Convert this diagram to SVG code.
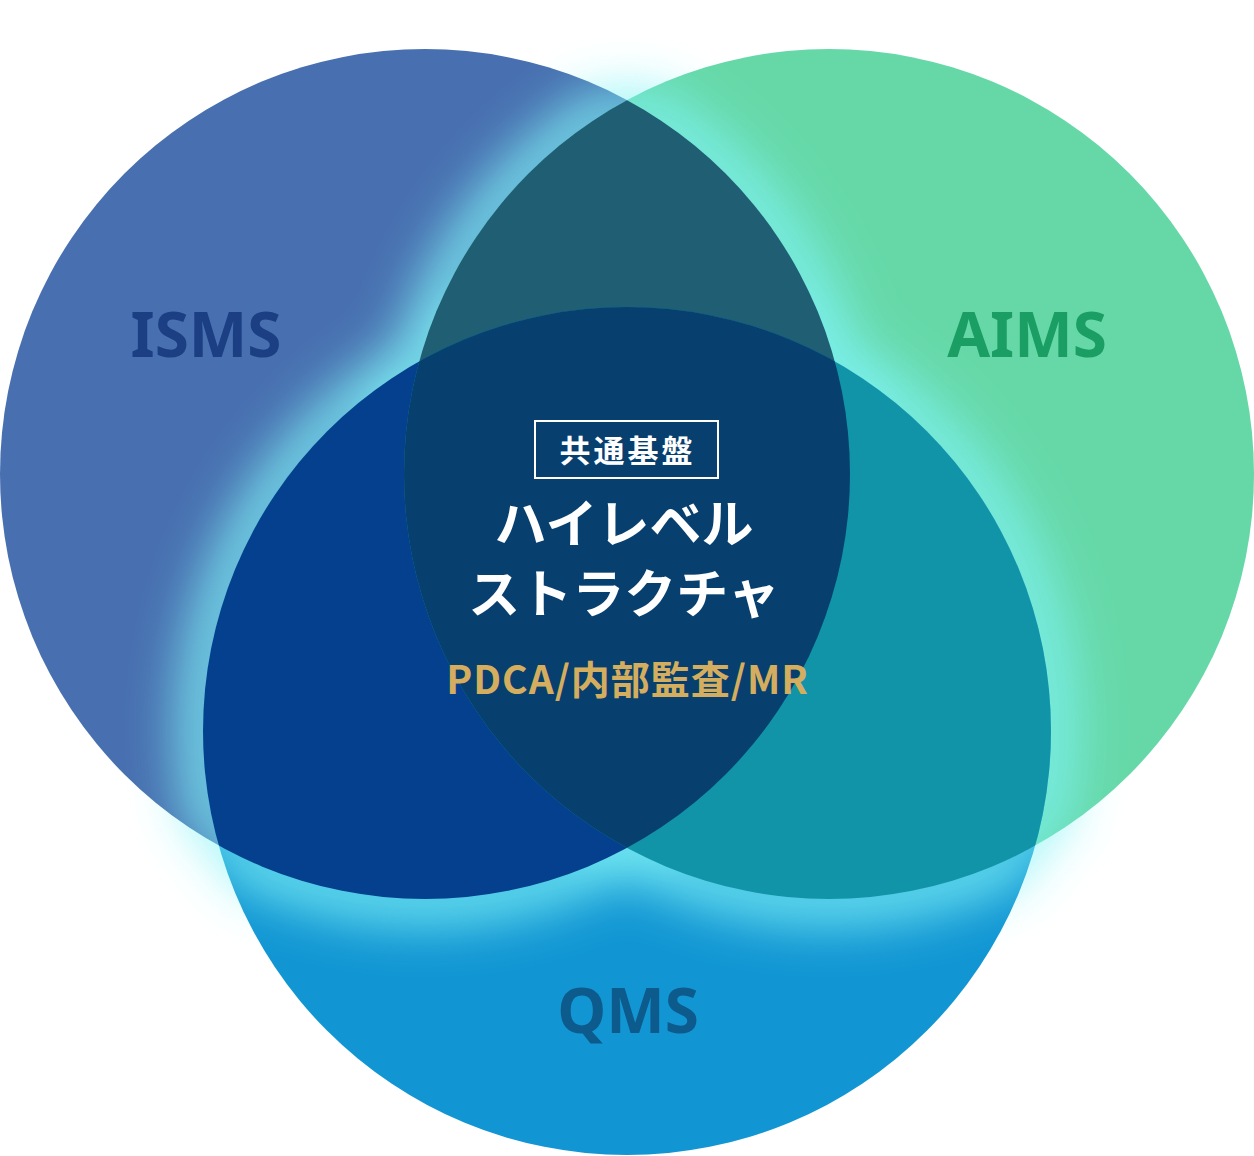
<svg xmlns="http://www.w3.org/2000/svg" width="1254" height="1156" viewBox="0 0 1254 1156">
<style>
.lbl{font-family:"Noto Sans","Noto Sans CJK JP",sans-serif;font-weight:700;font-size:62px;text-anchor:middle}
.jp{font-family:"Noto Sans CJK JP","Noto Sans",sans-serif;font-weight:700;text-anchor:middle}
.glow{fill:none;stroke:#7ff3f6;stroke-width:44}
</style>
<defs>
<clipPath id="cI"><circle cx="425" cy="474" r="425"/></clipPath>
<clipPath id="cA"><circle cx="829" cy="474" r="425"/></clipPath>
<clipPath id="cQ"><circle cx="627" cy="731" r="424"/></clipPath>
<clipPath id="cAQ"><circle cx="829" cy="474" r="425"/><circle cx="627" cy="731" r="424"/></clipPath>
<clipPath id="cIQ"><circle cx="425" cy="474" r="425"/><circle cx="627" cy="731" r="424"/></clipPath>
<clipPath id="cIA"><circle cx="425" cy="474" r="425"/><circle cx="829" cy="474" r="425"/></clipPath>
<filter id="blur" x="-20%" y="-20%" width="140%" height="140%"><feGaussianBlur stdDeviation="26"/></filter>
</defs>
<rect width="1254" height="1156" fill="#ffffff"/>
<g id="base">
<circle id="isms-circle" cx="425" cy="474" r="425" fill="#4870b0"/>
<circle id="aims-circle" cx="829" cy="474" r="425" fill="#66d8a8"/>
<circle id="qms-circle" cx="627" cy="731" r="424" fill="#1296d3"/>
</g>
<g id="glows" filter="url(#blur)" opacity="0.95">
<circle class="glow" cx="425" cy="474" r="425" clip-path="url(#cAQ)"/>
<circle class="glow" cx="829" cy="474" r="425" clip-path="url(#cIQ)"/>
<circle class="glow" cx="627" cy="731" r="424" clip-path="url(#cIA)"/>
</g>
<g id="overlaps">
<circle cx="829" cy="474" r="425" fill="#1f5e73" clip-path="url(#cI)"/>
<circle cx="627" cy="731" r="424" fill="#05408e" clip-path="url(#cI)"/>
<circle cx="627" cy="731" r="424" fill="#1294a8" clip-path="url(#cA)"/>
<g clip-path="url(#cA)"><circle cx="627" cy="731" r="424" fill="#073f6f" clip-path="url(#cI)"/></g>
</g>
<g id="isms"><text class="lbl" x="206" y="357" fill="#1b3f82">ISMS</text></g>
<g id="aims"><text class="lbl" x="1027" y="357" fill="#1a9e64">AIMS</text></g>
<g id="qms"><text class="lbl" x="628" y="1033" fill="#0d5a8c">QMS</text></g>
<g id="center">
<rect x="535" y="421" width="183" height="57" fill="none" stroke="#ffffff" stroke-width="2"/>
<text class="jp" x="627.5" y="462" font-size="31" letter-spacing="3" fill="#ffffff">共通基盤</text>
<text class="jp" x="624" y="543" font-size="52" fill="#ffffff">ハイレベル</text>
<text class="jp" x="624" y="613" font-size="52" fill="#ffffff">ストラクチャ</text>
<text class="jp" x="627.5" y="694" font-size="39" letter-spacing="1" fill="#d4ae5e">PDCA/内部監査/MR</text>
</g>
</svg>
